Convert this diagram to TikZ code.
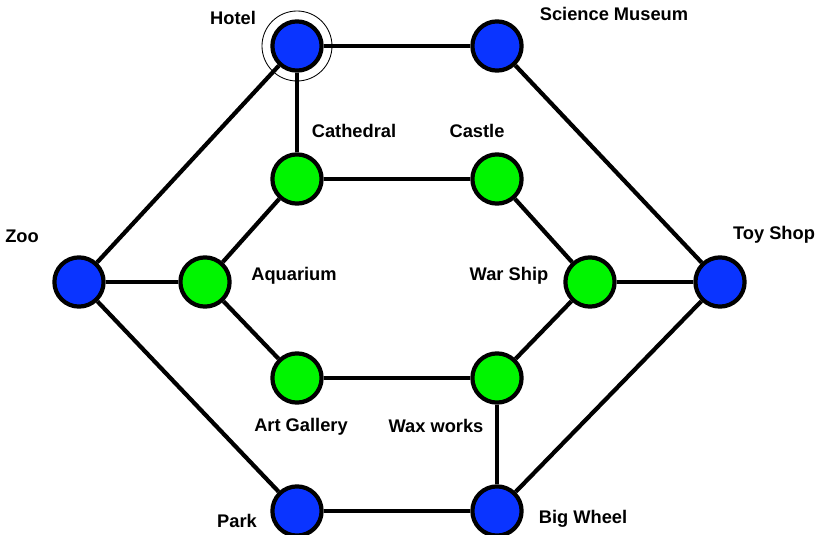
\documentclass[tikz,border=0pt]{standalone}
\usepackage{fontspec}
\setmainfont{Liberation Sans}
\usetikzlibrary{positioning}

\definecolor{placeblue}{RGB}{10,52,255}
\definecolor{placegreen}{RGB}{0,245,0}

\begin{document}
\begin{tikzpicture}[node distance=5cm,on grid,
    place/.style={circle,draw,line width=3pt,minimum size=1.23cm,inner sep=0pt},
    outerplace/.style={place,fill=placeblue},
    innerplace/.style={place,fill=placegreen},
    placename/.style={font=\fontsize{13}{15}\selectfont\bfseries,inner sep=0pt},
    road/.style={line width=3pt}]
        \useasboundingbox (0,0) rectangle (20.425,13.35);
        \node[outerplace] (hotel) at (7.425,12.2) {};
        \node[outerplace] (science) [right=of hotel] {};
        \node[innerplace] (cathedral) [below=3.325cm of hotel] {};
        \node[innerplace] (castle) [right=of cathedral] {};
        \node[innerplace] (aquarium) [below left=2.575cm and 2.3cm of cathedral] {};
        \node[outerplace] (zoo) [left=3.15cm of aquarium] {};
        \node[innerplace] (warship) [below right=2.575cm and 2.325cm of castle] {};
        \node[outerplace] (toyshop) [right=3.25cm of warship] {};
        \node[innerplace] (artgallery) [below right=2.4cm and 2.3cm of aquarium] {};
        \node[innerplace] (waxworks) [right=of artgallery] {};
        \node[outerplace] (park) [below=3.325cm of artgallery] {};
        \node[outerplace] (bigwheel) [right=of park] {};
        % the start
        \draw[line width=0.6pt] (hotel) circle (0.875cm);
        % names
        \node[placename] [above left=0.7cm and 1.6cm of hotel] {Hotel};
        \node[placename] [above right=0.8cm and 2.925cm of science] {Science Museum};
        \node[placename] [above right=1.2cm and 1.425cm of cathedral] {Cathedral};
        \node[placename] [above left=1.2cm and 0.5cm of castle] {Castle};
        \node[placename] [above left=1.15cm and 1.425cm of zoo] {Zoo};
        \node[placename] [above right=0.15cm and 2.225cm of aquarium] {Aquarium};
        \node[placename] [above left=0.15cm and 2.025cm of warship] {War Ship};
        \node[placename] [above right=1.175cm and 1.35cm of toyshop] {Toy Shop};
        \node[placename] [below right=1.23cm and 0.1cm of artgallery] {Art Gallery};
        \node[placename] [below left=1.2cm and 1.525cm of waxworks] {Wax works};
        \node[placename] [below left=0.25cm and 1.5cm of park] {Park};
        \node[placename] [below right=0.2cm and 2.15cm of bigwheel] {Big Wheel};
        \path[road]
            (hotel) edge (science)
                    edge (cathedral)
                    edge (zoo)
            (science) edge (toyshop)
            (cathedral) edge (castle)
                        edge (aquarium)
            (castle) edge (warship)
            (zoo) edge (aquarium)
                  edge (park)
            (aquarium) edge (artgallery)
            (warship) edge (toyshop)
                      edge (waxworks)
            (artgallery) edge (waxworks)
            (waxworks) edge (bigwheel)
            (park) edge (bigwheel)
            (toyshop) edge (bigwheel);
\end{tikzpicture}
\end{document}
